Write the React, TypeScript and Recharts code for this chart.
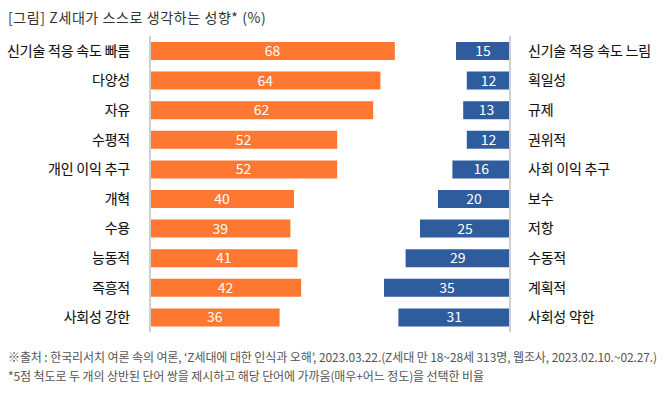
import { BarChart, Bar, XAxis, YAxis, LabelList } from 'recharts';

const leftLabels = ['신기술 적응 속도 빠름', '다양성', '자유', '수평적', '개인 이익 추구', '개혁', '수용', '능동적', '즉흥적', '사회성 강한'];
const leftValues = [68, 64, 62, 52, 52, 40, 39, 41, 42, 36];
const rightLabels = ['신기술 적응 속도 느림', '획일성', '규제', '권위적', '사회 이익 추구', '보수', '저항', '수동적', '계획적', '사회성 약한'];
const rightValues = [15, 12, 13, 12, 16, 20, 25, 29, 35, 31];

const FONT = '"Noto Sans CJK KR", "Noto Sans", sans-serif';
const ORANGE = '#FF7831';
const BLUE = '#2F5C9C';

const leftData = leftLabels.map((name, i) => ({ name, value: leftValues[i] }));
const rightData = rightLabels.map((name, i) => ({ name, value: rightValues[i] }));

function NameTick(props: any) {
  const { x, y, payload, anchor } = props;
  return (
    <text x={x} y={y} dy={5} textAnchor={anchor} fill="#111" stroke="#111" strokeWidth={0.1} fontSize={14} fontFamily={FONT} letterSpacing={-0.2}>
      {payload.value}
    </text>
  );
}

export default function App() {
  return (
    <div style={{ position: 'absolute', left: 0, top: 0, width: 669, height: 396, background: '#fff', fontFamily: FONT }}>
      <div style={{ position: 'absolute', left: 8, top: 7, fontSize: 14, color: '#333', letterSpacing: 0.6 }}>
        [그림] Z세대가 스스로 생각하는 성향* (%)
      </div>

      {/* left side */}
      <div style={{ position: 'absolute', left: 0, top: 0 }}>
        <BarChart width={402} height={340} data={leftData} layout="vertical" margin={{ top: 36, right: 0, bottom: 8, left: 0 }} barSize={18}>
          <XAxis type="number" domain={[0, 70]} hide />
          <YAxis
            type="category"
            dataKey="name"
            width={150}
            tickLine={false}
            tickMargin={14}
            axisLine={{ stroke: '#d0d0d0', strokeWidth: 2 }}
            tick={<NameTick anchor="end" />}
          />
          <Bar dataKey="value" fill={ORANGE} isAnimationActive={false}>
            <LabelList dataKey="value" position="center" fill="#fff" fontSize={14} fontFamily={FONT} />
          </Bar>
        </BarChart>
      </div>

      {/* right side */}
      <div style={{ position: 'absolute', left: 366, top: 0 }}>
        <BarChart width={304} height={340} data={rightData} layout="vertical" margin={{ top: 36, right: 0, bottom: 8, left: 0 }} barSize={18}>
          <XAxis type="number" domain={[0, 40]} reversed hide />
          <YAxis
            type="category"
            dataKey="name"
            orientation="right"
            width={160}
            tickLine={false}
            tickMargin={12}
            axisLine={{ stroke: '#d0d0d0', strokeWidth: 2 }}
            tick={<NameTick anchor="start" />}
          />
          <Bar dataKey="value" fill={BLUE} isAnimationActive={false}>
            <LabelList dataKey="value" position="center" fill="#fff" fontSize={14} fontFamily={FONT} />
          </Bar>
        </BarChart>
      </div>

      <div style={{ position: 'absolute', left: 8, top: 347, fontSize: 12, color: '#555', letterSpacing: -0.1, lineHeight: '19px', whiteSpace: 'nowrap' }}>
        <div>※출처 : 한국리서치 여론 속의 여론, ‘Z세대에 대한 인식과 오해’, 2023.03.22.(Z세대 만 18~28세 313명, 웹조사, 2023.02.10.~02.27.)</div>
        <div>*5점 척도로 두 개의 상반된 단어 쌍을 제시하고 해당 단어에 가까움(매우+어느 정도)을 선택한 비율</div>
      </div>
    </div>
  );
}
